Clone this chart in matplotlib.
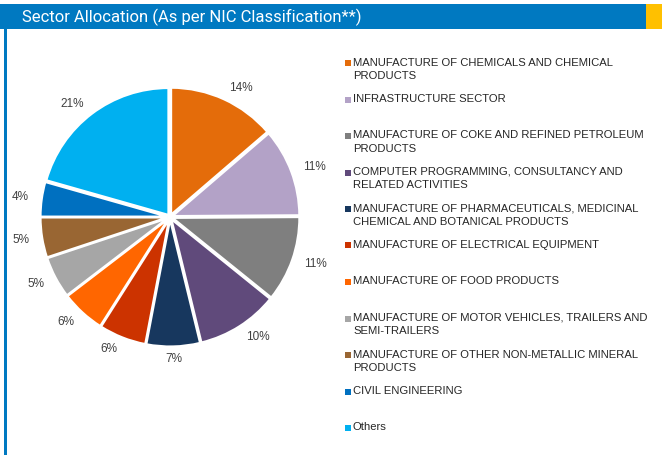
import matplotlib.pyplot as plt
from matplotlib.patches import Rectangle
import numpy as np

plt.rcParams['font.family'] = ['Liberation Sans', 'DejaVu Sans']

# sector weights (%)
sectors = [
    'MANUFACTURE OF CHEMICALS AND CHEMICAL\nPRODUCTS',
    'INFRASTRUCTURE SECTOR',
    'MANUFACTURE OF COKE AND REFINED PETROLEUM\nPRODUCTS',
    'COMPUTER PROGRAMMING, CONSULTANCY AND\nRELATED ACTIVITIES',
    'MANUFACTURE OF PHARMACEUTICALS, MEDICINAL\nCHEMICAL AND BOTANICAL PRODUCTS',
    'MANUFACTURE OF ELECTRICAL EQUIPMENT',
    'MANUFACTURE OF FOOD PRODUCTS',
    'MANUFACTURE OF MOTOR VEHICLES, TRAILERS AND\nSEMI-TRAILERS',
    'MANUFACTURE OF OTHER NON-METALLIC MINERAL\nPRODUCTS',
    'CIVIL ENGINEERING',
    'Others',
]
weights = [13.7, 11.2, 10.9, 10.4, 6.8, 6.0, 5.6, 5.3, 5.1, 4.4, 20.6]
colors = ['#E46C0A', '#B3A2C7', '#7F7F7F', '#604A7B', '#17375E', '#CC3300',
          '#FF6600', '#A6A6A6', '#996633', '#0070C0', '#00B0F0']

W, H = 662, 455
fig = plt.figure(figsize=(W / 100, H / 100), dpi=100)


def fx(x):
    return x / W


def fy(y):
    return 1 - y / H


# header bar + accent + left rule
blue = '#0079C1'
fig.add_artist(Rectangle((fx(0), fy(29)), fx(646), 25 / H, color=blue, lw=0))
fig.add_artist(Rectangle((fx(646), fy(29)), fx(16), 25 / H, color='#FFC000', lw=0))
fig.add_artist(Rectangle((fx(4), fy(455)), fx(2.5), (455 - 29) / H, color=blue, lw=0))
fig.text(fx(22), fy(17), 'Sector Allocation (As per NIC Classification**)',
         color='white', fontsize=12, va='center', ha='left',
         family=['Liberation Sans Narrow', 'Roboto', 'DejaVu Sans'])

# pie
cx, cy, R = 170, 217, 127
lim = 1.4
half = R * lim
ax = fig.add_axes([fx(cx - half), fy(cy + half), 2 * half / W, 2 * half / H])
wedges, _ = ax.pie(weights, colors=colors, startangle=90, counterclock=False,
                   explode=[0.02] * len(weights),
                   wedgeprops=dict(edgecolor='white', linewidth=1.6))
ax.set_xlim(-lim, lim)
ax.set_ylim(-lim, lim)
ax.axis('off')

for w, val in zip(wedges, weights):
    ang = np.deg2rad((w.theta1 + w.theta2) / 2)
    c, s = np.cos(ang), np.sin(ang)
    if c > 0.3:
        ha = 'left'
    elif c < -0.3:
        ha = 'right'
    else:
        ha = 'center'
    ax.text(w.center[0] + 1.1 * c, w.center[1] + 1.1 * s, f'{val:.0f}%',
            ha=ha, va='center', fontsize=8.5, color='#404040')

# legend
for i, (name, col) in enumerate(zip(sectors, colors)):
    yc = 63 + 36.5 * i
    fig.add_artist(Rectangle((fx(345), fy(yc + 3)), 6 / W, 6 / H, color=col, lw=0))
    fig.text(fx(353), fy(yc - 5.5), name, ha='left', va='top', fontsize=8.1,
             color='#262626', linespacing=1.4)

fig.savefig('out.png', dpi=100)
